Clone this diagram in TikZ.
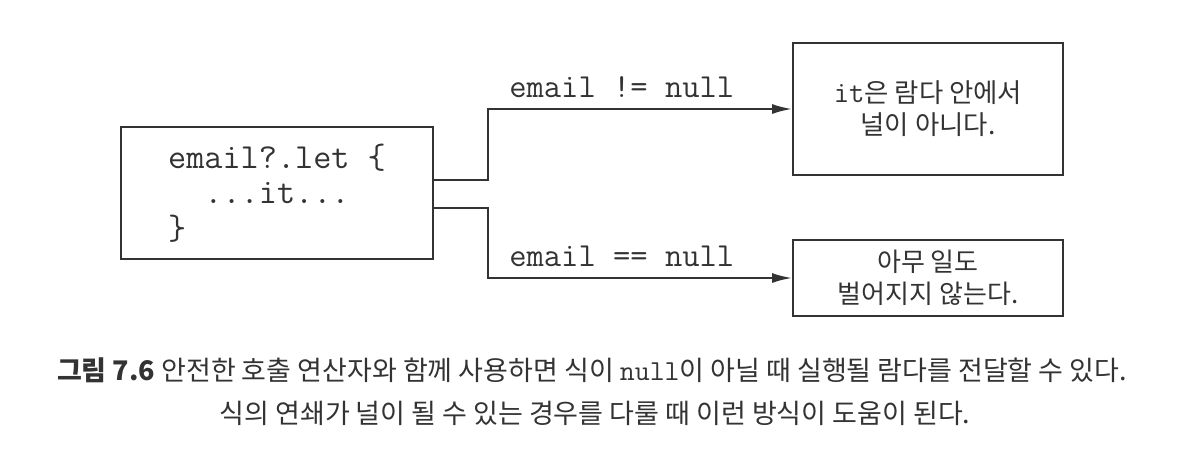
\documentclass[tikz,border=0pt]{standalone}
\usepackage{fontspec}
\setmainfont{Noto Sans CJK KR}
\usetikzlibrary{arrows.meta}
\definecolor{ink}{rgb}{0.2, 0.2, 0.2}
\tikzset{
  box/.style={draw=ink, line width=1pt, inner sep=0pt, align=center, text=ink},
  arr/.style={draw=ink, line width=1pt, -{Latex[length=10pt, width=5pt]}},
  lbl/.style={text=ink, font=\ttfamily\fontsize{16.8}{19}\selectfont},
  captext/.style={text=ink, font=\fontsize{13.5}{16}\selectfont}
}

\begin{document}
\begin{tikzpicture}[x=0.5pt, y=-0.5pt]
\useasboundingbox (0, 0) rectangle (1186, 452);
\node[box, minimum width=156pt, minimum height=66pt, align=left, font=\ttfamily\fontsize{17.6}{17.8}\selectfont] (code) at (277, 193) {email?.let \{\\\phantom{..}...it...\\\}};
\node[box, minimum width=135pt, minimum height=66pt, font=\fontsize{13.2}{16}\selectfont] (nonnull) at (928, 109) {{\ttfamily\fontsize{15}{16}\selectfont it}은 람다 안에서\\널이 아니다.};
\node[box, minimum width=135pt, minimum height=38pt, font=\fontsize{13}{16}\selectfont] (nothing) at (928, 278) {아무 일도\\벌어지지 않는다.};
\draw[arr] ([yshift=6.5pt]code.east) -- ++(54, 0) |- (nonnull.west) node[lbl, pos=0.72, above=2pt] {email != null};
\draw[arr] ([yshift=-7.5pt]code.east) -- ++(54, 0) |- (nothing.west) node[lbl, pos=0.72, above=2pt] {email == null};
\node[captext] (cap1) at (592, 370) {\textbf{그림 7.6} 안전한 호출 연산자와 함께 사용하면 식이 {\ttfamily\fontsize{14.5}{16}\selectfont null}이 아닐 때 실행될 람다를 전달할 수 있다.};
\node[captext] (cap2) at (595, 413) {식의 연쇄가 널이 될 수 있는 경우를 다룰 때 이런 방식이 도움이 된다.};
\end{tikzpicture}
\end{document}
